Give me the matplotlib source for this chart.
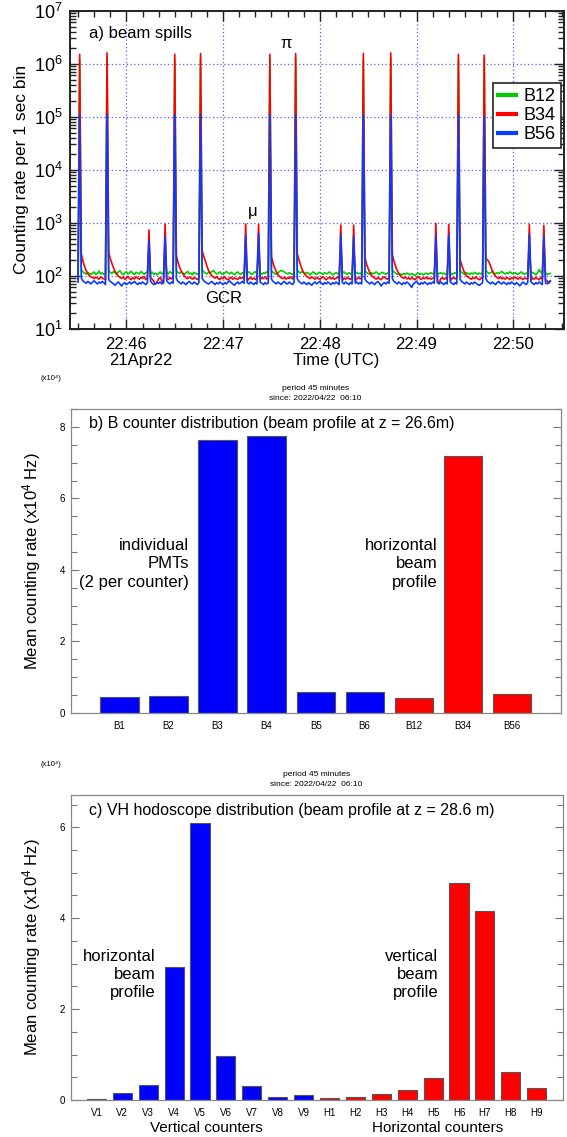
import numpy as np
import pandas as pd
import matplotlib
matplotlib.use("Agg")
import matplotlib.pyplot as plt
import matplotlib.dates as mdates
from matplotlib.ticker import LogLocator, MultipleLocator, FuncFormatter

plt.rcParams["font.family"] = ["Liberation Sans", "DejaVu Sans"]
plt.rcParams["mathtext.fontset"] = "custom"
plt.rcParams["mathtext.rm"] = "Liberation Sans"
plt.rcParams["mathtext.it"] = "Liberation Sans:italic"

# --------------------------------------------------
# a) counting rate per 1 s bin, starting 21Apr22 22:45:30 UTC
# --------------------------------------------------
T_START = "2022-04-21 22:45:30"

b12 = [
    100, 1200000, 130, 118, 112, 108, 115, 110, 106, 112,
    118, 105, 110, 122, 108, 114, 104, 110, 1300000, 125,
    115, 110, 120, 112, 106, 118, 124, 110, 104, 112,
    119, 108, 114, 122, 110, 105, 116, 112, 108, 120,
    114, 106, 112, 118, 300, 110, 116, 106, 112, 104,
    110, 118, 108, 112, 320, 115, 108, 120, 112, 106,
    1200000, 125, 115, 110, 118, 112, 106, 114, 120, 108,
    112, 104, 116, 110, 106, 112, 1300000, 130, 118, 112,
    108, 116, 112, 120, 125, 114, 108, 112, 118, 110,
    106, 112, 120, 114, 108, 116, 110, 104, 112, 118,
    110, 106, 114, 108, 300, 112, 118, 110, 106, 114,
    120, 108, 320, 112, 106, 114, 110, 118, 112, 1200000,
    122, 116, 110, 106, 114, 120, 126, 122, 118, 112,
    108, 114, 110, 106, 112, 1300000, 128, 118, 112, 120,
    114, 108, 116, 110, 104, 112, 118, 110, 106, 112,
    116, 110, 106, 114, 108, 112, 118, 110, 104, 108,
    114, 110, 106, 300, 112, 118, 110, 106, 114, 108,
    112, 320, 110, 116, 108, 112, 106, 1200000, 125, 115,
    110, 106, 114, 108, 112, 118, 110, 106, 112, 116,
    110, 106, 112, 108, 1300000, 128, 118, 112, 106, 110,
    108, 104, 110, 106, 112, 108, 104, 110, 106, 100,
    108, 112, 106, 110, 104, 108, 112, 106, 110, 114,
    108, 112, 300, 106, 110, 114, 108, 112, 106, 110,
    320, 112, 106, 110, 114, 108, 1200000, 125, 116, 110,
    106, 114, 110, 106, 112, 108, 116, 110, 106, 112,
    108, 110, 1250000, 125, 116, 110, 114, 120, 112, 108,
    114, 110, 116, 120, 112, 108, 114, 110, 118, 112,
    108, 114, 110, 106, 112, 118, 110, 106, 112, 108,
    300, 110, 116, 110, 104, 112, 130, 118, 110, 320,
    112, 106, 108, 110,
]

b34 = [
    85, 1500000, 260, 190, 150, 125, 110, 100, 95, 92,
    88, 94, 90, 86, 95, 91, 87, 84, 1600000, 280,
    210, 170, 140, 120, 108, 98, 93, 89, 95, 86,
    90, 97, 88, 84, 92, 87, 95, 90, 86, 93,
    89, 96, 85, 88, 730, 92, 86, 78, 70, 75,
    88, 93, 80, 72, 945, 90, 85, 92, 87, 95,
    1500000, 240, 180, 145, 122, 110, 98, 92, 88, 94,
    90, 86, 93, 89, 85, 91, 1550000, 300, 230, 190,
    150, 125, 110, 100, 94, 90, 96, 88, 85, 92,
    89, 95, 87, 84, 90, 93, 86, 91, 88, 85,
    92, 89, 94, 87, 940, 80, 88, 93, 86, 90,
    85, 91, 930, 84, 92, 88, 95, 87, 90, 1500000,
    230, 170, 140, 118, 105, 96, 91, 88, 94, 86,
    92, 89, 95, 87, 91, 1550000, 260, 200, 160, 130,
    115, 104, 97, 92, 88, 95, 90, 86, 93, 89,
    85, 91, 96, 88, 84, 90, 93, 87, 92, 86,
    89, 94, 88, 905, 82, 90, 86, 93, 89, 85,
    91, 905, 80, 88, 94, 87, 90, 1550000, 220, 165,
    135, 115, 102, 95, 90, 86, 93, 88, 84, 91,
    95, 89, 86, 92, 1600000, 250, 190, 150, 125, 110,
    100, 94, 89, 95, 87, 91, 86, 93, 88, 84,
    90, 96, 89, 85, 92, 88, 94, 87, 91, 86,
    89, 93, 975, 78, 72, 88, 92, 86, 90, 85,
    930, 80, 88, 93, 87, 91, 1500000, 200, 160, 130,
    112, 100, 94, 90, 86, 92, 88, 95, 87, 84,
    90, 93, 1450000, 210, 200, 180, 150, 125, 108, 98,
    92, 88, 95, 87, 91, 86, 93, 89, 85, 92,
    88, 94, 90, 86, 93, 89, 85, 91, 87, 92,
    930, 82, 90, 86, 93, 88, 84, 91, 87, 890,
    85, 80, 72, 78,
]

b56 = [
    75, 110000, 90, 80, 76, 72, 78, 74, 70, 76,
    80, 74, 70, 76, 72, 78, 74, 68, 110000, 85,
    78, 74, 70, 66, 72, 76, 70, 64, 70, 74,
    68, 72, 76, 70, 74, 78, 72, 68, 74, 70,
    76, 72, 68, 74, 470, 78, 72, 68, 70, 74,
    72, 76, 70, 74, 545, 80, 74, 70, 76, 72,
    110000, 88, 78, 74, 70, 76, 72, 68, 74, 78,
    72, 70, 76, 72, 68, 74, 110000, 90, 80, 76,
    72, 70, 74, 78, 72, 68, 74, 70, 76, 72,
    68, 74, 70, 76, 80, 74, 70, 66, 72, 76,
    70, 74, 78, 72, 585, 74, 70, 76, 72, 68,
    74, 70, 630, 76, 72, 68, 74, 70, 72, 110000,
    86, 78, 74, 70, 76, 72, 68, 74, 78, 72,
    70, 76, 72, 68, 74, 110000, 88, 78, 74, 70,
    76, 72, 68, 74, 70, 66, 72, 76, 70, 74,
    78, 72, 68, 74, 70, 76, 72, 68, 74, 70,
    76, 72, 68, 600, 74, 70, 76, 72, 68, 74,
    70, 550, 72, 76, 70, 74, 70, 110000, 86, 78,
    74, 70, 76, 72, 68, 74, 78, 72, 64, 70,
    74, 70, 76, 72, 110000, 88, 78, 74, 70, 76,
    72, 68, 74, 70, 76, 72, 66, 60, 70, 74,
    78, 72, 68, 74, 70, 76, 72, 68, 74, 70,
    76, 72, 585, 74, 70, 76, 72, 68, 74, 70,
    600, 76, 72, 68, 74, 70, 110000, 86, 78, 74,
    70, 76, 72, 68, 74, 70, 76, 72, 68, 66,
    70, 74, 100000, 88, 78, 74, 70, 76, 72, 68,
    74, 78, 72, 70, 76, 72, 68, 74, 70, 76,
    72, 68, 74, 70, 64, 70, 76, 72, 68, 74,
    600, 76, 72, 68, 74, 70, 76, 72, 68, 560,
    74, 70, 76, 80,
]

# --------------------------------------------------
# b) B counters, mean rate (x10^4 Hz)
# --------------------------------------------------
b_labels = ["B1", "B2", "B3", "B4", "B5", "B6", "B12", "B34", "B56"]
b_rates = [0.44, 0.475, 7.64, 7.74, 0.587, 0.58, 0.42, 7.18, 0.54]
b_colors = ["#0000ff"] * 6 + ["#ff0000"] * 3

# --------------------------------------------------
# c) VH hodoscope, mean rate (x10^4 Hz)
# --------------------------------------------------
vh_labels = ["V1", "V2", "V3", "V4", "V5", "V6", "V7", "V8", "V9",
             "H1", "H2", "H3", "H4", "H5", "H6", "H7", "H8", "H9"]
vh_rates = [0.03, 0.15, 0.33, 2.92, 6.09, 0.96, 0.30, 0.06, 0.11,
            0.04, 0.07, 0.125, 0.22, 0.48, 4.78, 4.15, 0.61, 0.26]
vh_colors = ["#0000ff"] * 9 + ["#ff0000"] * 9

W, H = 567, 1137
fig = plt.figure(figsize=(W / 100, H / 100), dpi=100)


def fx(x):
    return x / W


def fy(y):
    return 1 - y / H


def txt(x, y, s, **kw):
    fig.text(fx(x), fy(y), s, **kw)


# ---------------- panel a ----------------
ax = fig.add_axes([fx(70), fy(328.7), fx(564) - fx(70), fy(10.7) - fy(328.7)])
times = pd.date_range(T_START, periods=len(b34), freq="s")
ax.plot(times, b12, color="#00cc00", lw=1.2, label="B12")
ax.plot(times, b34, color="#ff0000", lw=1.2, label="B34")
ax.plot(times, b56, color="#0a3cff", lw=1.2, label="B56")
ax.set_yscale("log")
ax.set_ylim(10, 1e7)
ax.set_xlim(pd.Timestamp("2022-04-21 22:45:25"), pd.Timestamp("2022-04-21 22:50:31.5"))
ax.xaxis.set_major_locator(mdates.MinuteLocator())
ax.xaxis.set_minor_locator(mdates.SecondLocator(bysecond=range(0, 60, 10)))
ax.xaxis.set_major_formatter(mdates.DateFormatter("%H:%M"))
ax.yaxis.set_major_locator(LogLocator(base=10, numticks=10))
ax.yaxis.set_minor_locator(LogLocator(base=10, subs=np.arange(2, 10), numticks=10))
ax.yaxis.set_major_formatter(FuncFormatter(lambda v, p: "$10^{%d}$" % round(np.log10(v))))
ax.tick_params(which="both", direction="in", top=True, right=True, width=1.0, color="#222222")
ax.tick_params(which="major", length=7, labelsize=13, pad=5)
ax.tick_params(which="minor", length=4)
ax.tick_params(axis="x", labelsize=12, pad=6)
ax.grid(True, which="major", color="#5a5aff", linestyle=(0, (1, 2)), lw=0.9)
for s in ax.spines.values():
    s.set_linewidth(1.4)
    s.set_color("#222222")
ax.set_ylabel("Counting rate per 1 sec bin", fontsize=12.5, labelpad=4)
leg = ax.legend(loc="upper left", bbox_to_anchor=((493 - 70) / 494, 1 - (83 - 10.7) / 318),
                fontsize=13, handlelength=1.0, handletextpad=0.4, labelspacing=0.1,
                borderpad=0.3, borderaxespad=0, fancybox=False, framealpha=1)
leg.get_frame().set_edgecolor("#222222")
leg.get_frame().set_linewidth(1.2)
for h in leg.get_lines():
    h.set_linewidth(3)

txt(89, 33.3, "a) beam spills", fontsize=12, va="center")
txt(285.8, 43, "π", fontsize=12, ha="center", va="center")
txt(252.5, 211.7, "μ", fontsize=12, ha="center", va="center")
txt(223.6, 298.3, "GCR", fontsize=12, ha="center", va="center")
txt(141, 361, "21Apr22", fontsize=12, ha="center", va="center")
txt(335.7, 361, "Time (UTC)", fontsize=12, ha="center", va="center")


# ---------------- bar panels ----------------
def bar_panel(top, bottom, right, labels, rates, colors, ymax, width):
    bx = fig.add_axes([fx(70.5), fy(bottom), fx(right) - fx(70.5), fy(top) - fy(bottom)])
    pos = np.arange(1, len(labels) + 1)
    bx.bar(pos, rates, width=width, color=colors, edgecolor="#555555", lw=0.8)
    bx.set_xlim(0, len(labels) + 1)
    bx.set_ylim(0, ymax)
    bx.set_xticks(pos)
    bx.set_xticklabels(labels)
    bx.yaxis.set_major_locator(MultipleLocator(2))
    bx.yaxis.set_minor_locator(MultipleLocator(0.5))
    bx.tick_params(axis="x", length=0, labelsize=7, pad=6)
    bx.tick_params(axis="y", which="both", direction="in", right=True, labelsize=7,
                   color="#777777", width=0.8, pad=4)
    bx.tick_params(axis="y", which="major", length=6)
    bx.tick_params(axis="y", which="minor", length=4)
    for s in bx.spines.values():
        s.set_color("#888888")
        s.set_linewidth(0.9)
    bx.set_ylabel("Mean counting rate (x10$^4$ Hz)", fontsize=12, labelpad=12)
    return bx


bar_panel(409, 713, 560.8, b_labels, b_rates, b_colors, 8.5, 0.78)
txt(50.5, 378, "(x10⁴)", fontsize=5.5, ha="center", va="center")
txt(315.6, 388.3, "period 45 minutes", fontsize=6, ha="center", va="center")
txt(315.6, 399, "since: 2022/04/22  06:10", fontsize=6, ha="center", va="center")
txt(88.6, 423.3, "b) B counter distribution (beam profile at z = 26.6m)", fontsize=11.5, va="center")
txt(188.9, 564, "individual\nPMTs\n(2 per counter)", fontsize=12, ha="right", va="center",
    multialignment="right", linespacing=1.25)
txt(437.8, 564, "horizontal\nbeam\nprofile", fontsize=12, ha="right", va="center",
    multialignment="right", linespacing=1.25)

bar_panel(795, 1100, 562.6, vh_labels, vh_rates, vh_colors, 6.71, 0.74)
txt(50.5, 765, "(x10⁴)", fontsize=5.5, ha="center", va="center")
txt(316.5, 774.3, "period 45 minutes", fontsize=6, ha="center", va="center")
txt(316.5, 785, "since: 2022/04/22  06:10", fontsize=6, ha="center", va="center")
txt(88.6, 810, "c) VH hodoscope distribution (beam profile at z = 28.6 m)", fontsize=11.5, va="center")
txt(155.6, 974.5, "horizontal\nbeam\nprofile", fontsize=12, ha="right", va="center",
    multialignment="right", linespacing=1.25)
txt(438.5, 974.5, "vertical\nbeam\nprofile", fontsize=12, ha="right", va="center",
    multialignment="right", linespacing=1.25)
txt(206, 1128.3, "Vertical counters", fontsize=11, ha="center", va="center")
txt(437.8, 1128.3, "Horizontal counters", fontsize=11, ha="center", va="center")

fig.savefig("out.png", dpi=100)
